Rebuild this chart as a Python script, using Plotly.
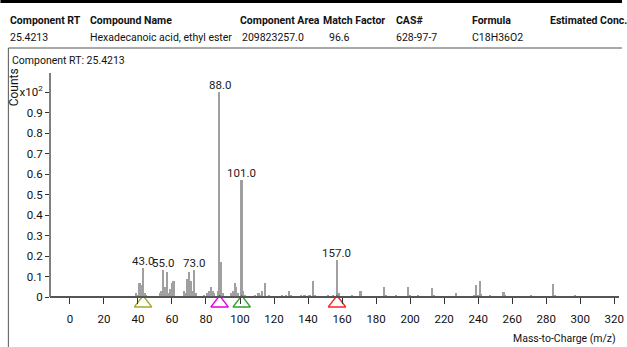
import plotly.graph_objects as go

# ---- data ----
mz = [39, 40, 41, 42, 43, 44, 45, 53, 54, 55, 56, 57, 58, 59, 60, 61, 67, 68, 69, 70, 71, 72, 73, 74,
      79, 81, 82, 83, 84, 85, 87, 88, 89, 90, 95, 96, 97, 98, 99, 101, 102, 103, 109, 111, 112, 113,
      115, 117, 125, 127, 129, 130, 136, 138, 141, 143, 144, 152, 155, 157, 158, 166, 171, 185, 186,
      192, 199, 200, 205, 213, 214, 227, 238, 239, 240, 241, 242, 247, 255, 256, 271, 284, 285, 297]
intensity = [0.02, 0.01, 0.07, 0.06, 0.14, 0.02, 0.01, 0.02, 0.03, 0.13, 0.05, 0.12, 0.02, 0.04, 0.07, 0.08,
             0.03, 0.02, 0.09, 0.12, 0.08, 0.03, 0.13, 0.02, 0.01, 0.02, 0.03, 0.05, 0.03, 0.02, 0.03, 1.00,
             0.17, 0.02, 0.02, 0.03, 0.07, 0.05, 0.02, 0.57, 0.03, 0.01, 0.01, 0.02, 0.01, 0.03, 0.07, 0.01,
             0.01, 0.01, 0.03, 0.01, 0.01, 0.01, 0.01, 0.08, 0.01, 0.01, 0.01, 0.18, 0.02, 0.01, 0.03, 0.05,
             0.01, 0.01, 0.05, 0.01, 0.01, 0.045, 0.01, 0.02, 0.01, 0.06, 0.01, 0.08, 0.015, 0.01, 0.025,
             0.005, 0.01, 0.065, 0.01, 0.01]
labeled_mz = [43, 55, 73, 88, 101, 157]
marker_mz = [43, 88, 101, 157]
marker_colors = ["#a8a830", "#e000e0", "#30a030", "#ff2020"]
x_ticks = list(range(0, 321, 20))
y_ticks = [0, 0.1, 0.2, 0.3, 0.4, 0.5, 0.6, 0.7, 0.8, 0.9, 1.0]
y_tick_text = ["0", "0.1", "0.2", "0.3", "0.4", "0.5", "0.6", "0.7", "0.8", "0.9", "x10<sup>2</sup>"]

header_cols = ["Component RT", "Compound Name", "Component Area", "Match Factor", "CAS#", "Formula", "Estimated Conc."]
header_vals = ["25.4213", "Hexadecanoic acid, ethyl ester", "209823257.0", "96.6", "628-97-7", "C18H36O2"]
header_x_px = [8, 88, 240, 323, 397, 474, 552]
value_x_px = [8, 88, 242, 329, 397, 474]

W, H = 627, 347
L, R, T, B = 50, 3, 73, 37
PW, PH = W - L - R, H - T - B
AXIS_Y = 297          # pixel row of the x-axis line (m/z axis at 0 counts)
Y_PER_PX = 1 / 205.0  # data units per pixel on the y axis

def px(x):
    return (x - L) / PW

def py(y):
    return (H - B - y) / PH

FONT = "Roboto, Liberation Sans, sans-serif"
HF = 10.5  # header font size

y_min = -(H - B - AXIS_Y) * Y_PER_PX
y_max = (AXIS_Y - T) * Y_PER_PX

fig = go.Figure()
fig.add_trace(go.Bar(x=mz, y=intensity, width=1.0, marker=dict(color="#a0a0a0", line=dict(width=0)),
                     showlegend=False))
fig.add_trace(go.Scatter(x=marker_mz, y=[-0.03] * len(marker_mz), mode="markers", cliponaxis=False,
                         marker=dict(symbol="triangle-up-open", size=15, color=marker_colors,
                                     line=dict(width=1.5, color=marker_colors)),
                         showlegend=False))

lookup = dict(zip(mz, intensity))
for m in labeled_mz:
    fig.add_annotation(x=m, y=lookup[m], text=f"{m:.1f}", showarrow=False, yanchor="bottom",
                       yshift=-2, font=dict(family=FONT, size=11.5, color="#222"))

for name, xp in zip(header_cols, header_x_px):
    fig.add_annotation(xref="paper", yref="paper", x=px(xp), y=py(20), text=f"<b>{name}</b>",
                       showarrow=False, xanchor="left", yanchor="middle",
                       font=dict(family=FONT, size=HF, color="#111"))
for val, xp in zip(header_vals, value_x_px):
    fig.add_annotation(xref="paper", yref="paper", x=px(xp), y=py(37), text=val,
                       showarrow=False, xanchor="left", yanchor="middle",
                       font=dict(family=FONT, size=HF, color="#111"))
fig.add_annotation(xref="paper", yref="paper", x=px(10), y=py(60), text="Component RT: 25.4213",
                   showarrow=False, xanchor="left", yanchor="middle",
                   font=dict(family=FONT, size=HF, color="#111"))
fig.add_annotation(xref="paper", yref="paper", x=px(14), y=py(87), text="Counts", textangle=-90,
                   showarrow=False, xanchor="center", yanchor="middle",
                   font=dict(family=FONT, size=12, color="#111"))
fig.add_annotation(xref="paper", yref="paper", x=px(623), y=py(338), text="Mass-to-Charge (m/z)",
                   showarrow=False, xanchor="right", yanchor="middle",
                   font=dict(family=FONT, size=HF, color="#111"))

# borders
fig.add_shape(type="line", xref="paper", yref="paper", x0=px(0), x1=px(627), y0=py(1.5), y1=py(1.5),
              line=dict(color="#000", width=3))
fig.add_shape(type="line", xref="paper", yref="paper", x0=px(8), x1=px(627), y0=py(48), y1=py(48),
              line=dict(color="#555", width=1))
fig.add_shape(type="line", xref="paper", yref="paper", x0=px(8), x1=px(8), y0=py(48), y1=py(347),
              line=dict(color="#555", width=1))

fig.update_layout(
    width=W, height=H, margin=dict(l=L, r=R, t=T, b=B),
    paper_bgcolor="white", plot_bgcolor="white", bargap=0,
    font=dict(family=FONT, size=11, color="#111"),
    xaxis=dict(range=[-11.7, 322.8], tickvals=x_ticks, ticks="outside", ticklen=6, tickcolor="#333",
               showline=True, linecolor="#555", linewidth=1.5, showgrid=False, zeroline=False,
               anchor="free", position=py(AXIS_Y), ticklabeloverflow="allow", ticklabelstandoff=5,
               tickfont=dict(family=FONT, size=11.5)),
    yaxis=dict(range=[y_min, y_max], tickvals=y_ticks, ticktext=y_tick_text, ticks="outside", ticklen=4,
               tickcolor="#333", showline=False, showgrid=False, zeroline=False,
               tickfont=dict(family=FONT, size=11.5)),
)
# y-axis spine from 0 up to the top of the plot
fig.add_shape(type="line", xref="paper", yref="paper", x0=0, x1=0, y0=py(AXIS_Y), y1=1,
              line=dict(color="#555", width=1.5))
fig.write_html("out.html")
